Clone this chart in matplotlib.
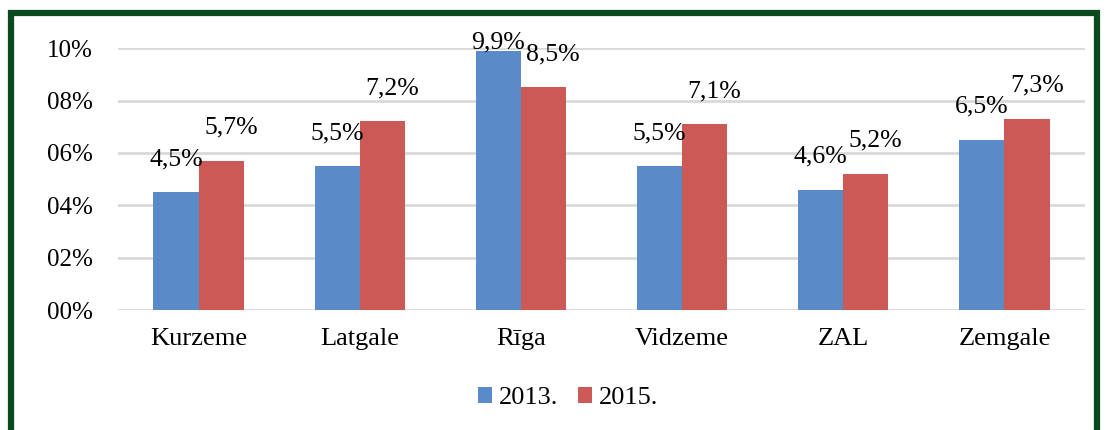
import matplotlib.pyplot as plt
from matplotlib.patches import Rectangle
import numpy as np

# Data
regions = ['Kurzeme', 'Latgale', 'Rīga', 'Vidzeme', 'ZAL', 'Zemgale']
years = ['2013.', '2015.']
v2013 = [0.045, 0.055, 0.099, 0.055, 0.046, 0.065]
v2015 = [0.057, 0.072, 0.085, 0.071, 0.052, 0.073]
colors = ['#5B8AC8', '#CB5A56']

plt.rcParams['font.family'] = ['Liberation Serif', 'DejaVu Serif']

fig = plt.figure(figsize=(11.06, 4.3), dpi=100)
ax = fig.add_axes([0.1067, 0.279, 0.8743, 0.609])

x = np.arange(len(regions))
w = 0.28
ax.bar(x - w / 2, v2013, w, color=colors[0], label=years[0], zorder=3)
ax.bar(x + w / 2, v2015, w, color=colors[1], label=years[1], zorder=3)

# value labels above the bars (Excel style, clamped at the top)
for vals, off, dx in ((v2013, -w / 2, 0), (v2015, w / 2, 7)):
    for i, v in enumerate(vals):
        y = min(v + 0.0103, 0.1)
        ax.annotate(f"{v*100:.1f}%".replace('.', ','), (x[i] + off, y),
                    xytext=(dx, 0), textcoords='offset points',
                    ha='center', va='baseline', fontsize=18.5,
                    annotation_clip=False)

ticks = np.arange(0, 0.101, 0.02)
ax.set_xlim(-0.5, len(regions) - 0.5)
ax.set_ylim(0, 0.10)
ax.set_yticks(ticks)
ax.set_yticklabels([f"{t*100:02.0f}%" for t in ticks], fontsize=18)
ax.set_xticks(x)
ax.set_xticklabels(regions, fontsize=19)
ax.tick_params(axis='both', length=0)
ax.tick_params(axis='y', pad=18)
ax.tick_params(axis='x', pad=13)
ax.grid(axis='y', color='#D9D9D9', linewidth=2, zorder=0)
for s in ax.spines.values():
    s.set_visible(False)

fig.legend(loc='center', bbox_to_anchor=(0.5136, 0.074), ncol=2, frameon=False,
           fontsize=19, handlelength=0.55, handleheight=0.55, handletextpad=0.25,
           columnspacing=0.75)

# dark green frame around the chart
fig.patches.append(Rectangle((11 / 1106, -0.1), 1086 / 1106, 1.1 - 13 / 430,
                             transform=fig.transFigure, fill=False,
                             edgecolor='#0B4A1C', linewidth=4.5))

fig.savefig('out.png', dpi=100)
